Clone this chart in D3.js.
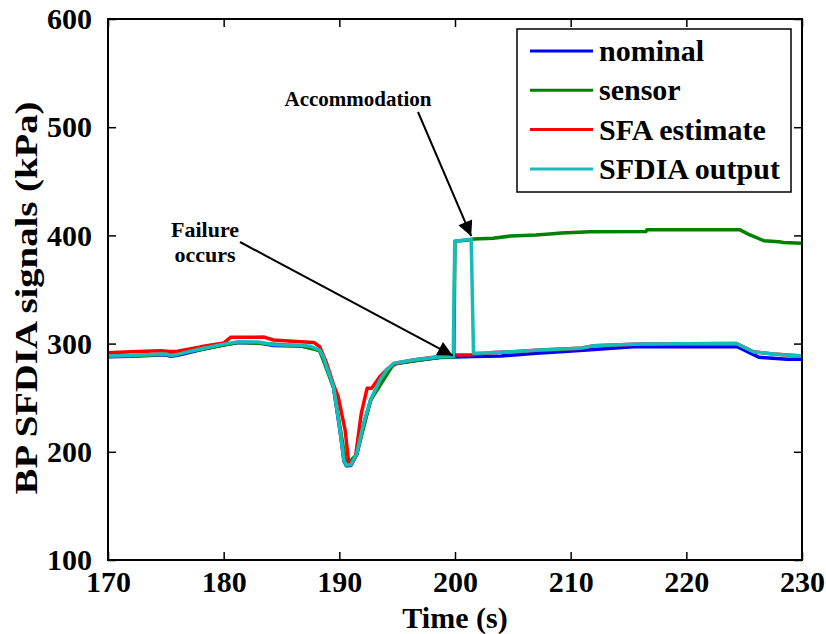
<!DOCTYPE html>
<html>
<head>
<meta charset="utf-8">
<script src="https://cdn.jsdelivr.net/npm/d3@7"></script>
<style>
  body { margin: 0; background: #fff; }
  text { font-family: "Liberation Serif", "Times New Roman", serif; font-weight: bold; }
</style>
</head>
<body>
<div id="chart"></div>
<script>
// time (s), pressure (kPa)
const nominal = [
  [170, 287.8], [172, 288.3], [174, 289.3], [175, 289.8], [175.4, 288.3], [176, 289.3],
  [178, 294.3], [180, 298.8], [181.3, 301.1], [183, 300.8], [184.3, 298.3], [186.6, 297.8],
  [187.5, 296.8], [188.3, 293.3], [188.6, 287.3], [189.5, 259.3], [190.06, 219.3],
  [190.4, 191.3], [190.6, 187.1], [191, 187.3], [191.5, 197.3], [192.1, 225.3], [192.7, 247.3],
  [193.5, 265.3], [194.1, 274.9], [194.7, 281.1], [196.4, 284.1], [198.7, 287.2], [200, 287.6],
  [201.6, 288], [204, 288.5], [207, 291], [209.1, 292.5], [211.4, 294.1], [215.4, 297.1],
  [224.4, 297.1], [226.3, 287.3], [228.7, 285.5], [230, 285.5]
]

const sensor = [
  [170, 288], [175, 290], [178, 294.5], [181.3, 301.3], [186.6, 298], [188.3, 293.5],
  [189.5, 259.5], [190.6, 187.3], [191.5, 197.5], [192.7, 247.5], [194.7, 281.3],
  [198.7, 287.4], [199.9, 287.6], [200, 394.5], [201.4, 396], [201.6, 396.7], [203.3, 397.3],
  [204.8, 399.4], [207, 400.4], [208.2, 401.3], [209.2, 402.2], [211.7, 403.4], [216.5, 403.5],
  [216.6, 405.3], [224.6, 405.3], [225.5, 400.4], [226.7, 395.1], [228, 394.2], [228.4, 393.4],
  [230, 392.7]
]

const sfaEstimate = [
  [170, 291.6], [172, 292.5], [174.5, 293.4], [175.3, 292.8], [176, 293], [178, 297],
  [180, 300.5], [180.6, 305.8], [183.5, 306], [184.3, 303.3], [186.6, 301.8], [187.8, 301],
  [188.3, 297.2], [188.9, 281.8], [189.5, 262], [189.9, 251], [190.5, 220], [190.8, 191],
  [191, 188], [191.4, 195.5], [191.9, 235.6], [192.4, 258.7], [192.8, 258.7], [193.5, 269.4],
  [194.2, 277], [195, 282], [196.5, 285], [198.7, 288], [200, 289.5], [201.6, 289.8],
  [203, 291.5], [205, 292.5], [207.35, 294], [210.8, 295.6], [212, 298], [216, 299.6],
  [224.3, 300.2], [225.8, 292.5], [227.5, 290.4], [230, 288.5]
]

const sfdiaOutput = [
  [170, 288.5], [172, 289], [174, 290], [175, 290.5], [175.4, 289], [176, 290], [178, 295],
  [180, 299.5], [181.3, 301.8], [183, 301.5], [184.3, 299], [186.6, 298.5], [187.5, 297.5],
  [188.3, 294], [188.6, 288], [189.5, 260], [190.06, 220], [190.4, 192], [190.6, 187.8],
  [191, 188], [191.5, 198], [192.1, 226], [192.7, 248], [193.5, 266], [194.1, 275.6],
  [194.7, 281.8], [196.4, 284.8], [198.7, 287.9], [199.85, 288], [199.98, 394.5],
  [201.4, 396.5], [201.6, 291], [203, 291.5], [205, 292.5], [207.35, 294], [210.8, 295.6],
  [212, 298], [216, 299.6], [224.3, 300.2], [225.8, 292.5], [227.5, 290.4], [230, 288.5]
]

const seriesNames = ["nominal", "sensor", "SFA estimate", "SFDIA output"]
const seriesColors = ["#0000ff", "#008000", "#ff0000", "#14bcbc"]
const xTicks = [170, 180, 190, 200, 210, 220, 230]
const yTicks = [100, 200, 300, 400, 500, 600]

const width = 826
const height = 634
const plotLeft = 108
const plotRight = 802
const plotTop = 19
const plotBottom = 560

const svg = d3
  .select("#chart")
  .append("svg")
  .attr("width", width)
  .attr("height", height)

const xScale = d3.scaleLinear().domain([170, 230]).range([plotLeft, plotRight])
const yScale = d3.scaleLinear().domain([100, 600]).range([plotBottom, plotTop])

// curves, cyan drawn last so it covers the others
const line = d3
  .line()
  .x(function(d) { return xScale(d[0]) })
  .y(function(d) { return yScale(d[1]) })

const allSeries = [nominal, sensor, sfaEstimate, sfdiaOutput]
allSeries.forEach(function(s, i) {
  svg
    .append("path")
    .datum(s)
    .attr("d", line)
    .attr("fill", "none")
    .attr("stroke", seriesColors[i])
    .attr("stroke-width", 3.5)
    .attr("stroke-linejoin", "round")
})

// axes box with inward ticks on all four sides
const tickLen = 8
function styleAxis(g) {
  g.select(".domain").remove()
  g.selectAll(".tick line").attr("stroke", "#000").attr("stroke-width", 1.5)
  g.selectAll(".tick text")
    .attr("fill", "#000")
    .style("font-size", "30px")
    .style("font-family", "'Liberation Serif', serif")
    .style("font-weight", "bold")
}

svg.append("g")
  .attr("transform", "translate(0," + plotBottom + ")")
  .call(d3.axisBottom(xScale).tickValues(xTicks).tickSize(-tickLen).tickPadding(11).tickFormat(d3.format("d")))
  .call(styleAxis)

svg.append("g")
  .attr("transform", "translate(0," + plotTop + ")")
  .call(d3.axisTop(xScale).tickValues(xTicks).tickSize(-tickLen).tickFormat(""))
  .call(styleAxis)

svg.append("g")
  .attr("transform", "translate(" + plotLeft + ",0)")
  .call(d3.axisLeft(yScale).tickValues(yTicks).tickSize(-tickLen).tickPadding(16).tickFormat(d3.format("d")))
  .call(styleAxis)

svg.append("g")
  .attr("transform", "translate(" + plotRight + ",0)")
  .call(d3.axisRight(yScale).tickValues(yTicks).tickSize(-tickLen).tickFormat(""))
  .call(styleAxis)

svg.append("rect")
  .attr("x", plotLeft)
  .attr("y", plotTop)
  .attr("width", plotRight - plotLeft)
  .attr("height", plotBottom - plotTop)
  .attr("fill", "none")
  .attr("stroke", "#000")
  .attr("stroke-width", 2)

// axis labels
svg.append("text")
  .attr("x", (plotLeft + plotRight) / 2)
  .attr("y", 628)
  .attr("text-anchor", "middle")
  .style("font-size", "30px")
  .text("Time (s)")

// y label is drawn a bit stretched along its length, as in the figure
svg.append("text")
  .attr("transform", "translate(37,298)rotate(-90)scale(1.25,1)")
  .attr("text-anchor", "middle")
  .style("font-size", "31px")
  .text("BP SFDIA signals (kPa)")

// legend
const legend = svg.append("g")
legend.append("rect")
  .attr("x", 517)
  .attr("y", 29)
  .attr("width", 274)
  .attr("height", 163)
  .attr("fill", "#fff")
  .attr("stroke", "#000")
  .attr("stroke-width", 1.5)

seriesNames.forEach(function(name, i) {
  const ly = 51 + i * 39.3
  legend.append("line")
    .attr("x1", 530).attr("x2", 593)
    .attr("y1", ly).attr("y2", ly)
    .attr("stroke", seriesColors[i])
    .attr("stroke-width", 3)
  legend.append("text")
    .attr("x", 599)
    .attr("y", ly + 10)
    .style("font-size", "30px")
    .text(name)
})

// annotations
svg.append("defs")
  .append("marker")
  .attr("id", "head")
  .attr("viewBox", "0 0 10 10")
  .attr("refX", 10)
  .attr("refY", 5)
  .attr("markerWidth", 18)
  .attr("markerHeight", 15)
  .attr("markerUnits", "userSpaceOnUse")
  .attr("orient", "auto")
  .append("path")
  .attr("d", "M0,0 L10,5 L0,10 Z")
  .attr("fill", "#000")

svg.append("line")
  .attr("x1", 418).attr("y1", 112)
  .attr("x2", xScale(201.4)).attr("y2", yScale(396.5) - 3)
  .attr("stroke", "#000")
  .attr("stroke-width", 2)
  .attr("marker-end", "url(#head)")

svg.append("line")
  .attr("x1", 240).attr("y1", 242)
  .attr("x2", xScale(199.8)).attr("y2", yScale(288) - 1)
  .attr("stroke", "#000")
  .attr("stroke-width", 2)
  .attr("marker-end", "url(#head)")

svg.append("text")
  .attr("x", 358)
  .attr("y", 106)
  .attr("text-anchor", "middle")
  .style("font-size", "21px")
  .text("Accommodation")

svg.append("text")
  .attr("x", 205)
  .attr("y", 237)
  .attr("text-anchor", "middle")
  .style("font-size", "22px")
  .text("Failure")

svg.append("text")
  .attr("x", 205)
  .attr("y", 262)
  .attr("text-anchor", "middle")
  .style("font-size", "22px")
  .text("occurs")
</script>
</body>
</html>
